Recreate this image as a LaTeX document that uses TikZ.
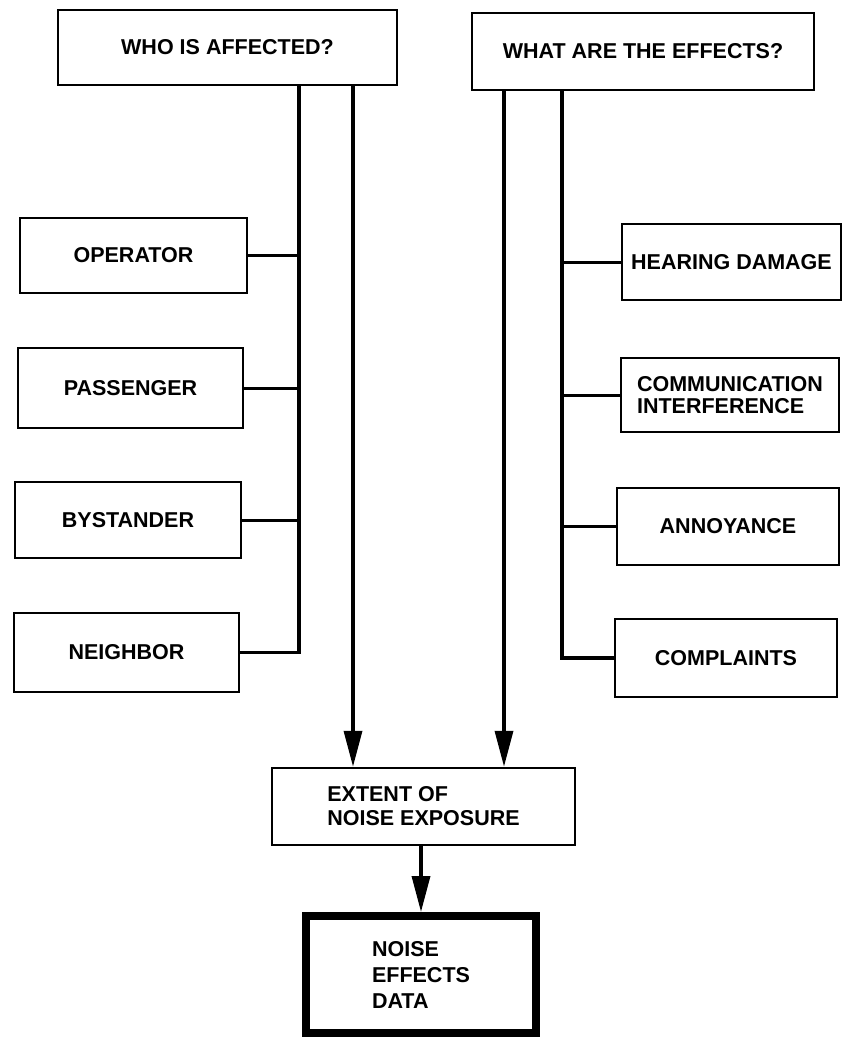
\documentclass[tikz,border=0pt]{standalone}
\usepackage{fontspec}
\setmainfont{Liberation Sans}
\usetikzlibrary{arrows.meta}
\begin{document}
\begin{tikzpicture}[x=1pt,y=-1pt,
  box/.style={draw, line width=2.5pt, inner sep=0pt, font=\bfseries\fontsize{21.5}{24}\selectfont, align=center},
  conn/.style={line width=3pt},
  trunk/.style={line width=3.5pt, line join=miter},
  arr/.style={line width=3.5pt, -{Triangle[length=36pt,width=18pt]}}]
\useasboundingbox (0,0) rectangle (844,1041);
% top question boxes
\node[box, minimum width=339pt, minimum height=75pt] (who) at (227.5,47.5) {WHO IS AFFECTED?};
\node[box, minimum width=342pt, minimum height=77pt] (what) at (643,51.5) {WHAT ARE THE EFFECTS?};
% left boxes
\node[box, minimum width=227pt, minimum height=75pt] (op) at (133.5,255.5) {OPERATOR};
\node[box, minimum width=225pt, minimum height=80pt] (pa) at (130.5,388) {PASSENGER};
\node[box, minimum width=226pt, minimum height=76pt] (by) at (128,520) {BYSTANDER};
\node[box, minimum width=225pt, minimum height=79pt] (ne) at (126.5,652.5) {NEIGHBOR};
% right boxes
\node[box, minimum width=219pt, minimum height=76pt] (hd) at (731.5,262) {HEARING DAMAGE};
\node[box, minimum width=218pt, minimum height=74pt, align=left, font=\bfseries\fontsize{21.5}{22}\selectfont] (ci) at (730,395) {COMMUNICATION\\INTERFERENCE};
\node[box, minimum width=222pt, minimum height=77pt] (an) at (728,526.5) {ANNOYANCE};
\node[box, minimum width=222pt, minimum height=78pt] (co) at (726,658) {COMPLAINTS};
% lower boxes
\node[box, minimum width=303pt, minimum height=77pt, align=left] (ext) at (423.5,806.5) {EXTENT OF\\NOISE EXPOSURE};
\node[box, line width=8pt, minimum width=230pt, minimum height=117pt, align=left, font=\bfseries\fontsize{21.5}{26}\selectfont] (data) at (421,974.5) {NOISE\\EFFECTS\\DATA};
% trunk positions
\coordinate (la) at (299,0);
\coordinate (lb) at (353,0);
\coordinate (ra) at (504,0);
\coordinate (rb) at (562,0);
% left branch trunk
\draw[trunk] (who.south -| la) -- (ne.east -| la) -- (ne.east);
\draw[conn] (op.east) -- (op.east -| la);
\draw[conn] (pa.east) -- (pa.east -| la);
\draw[conn] (by.east) -- (by.east -| la);
% right branch trunk
\draw[trunk] (what.south -| rb) -- (co.west -| rb) -- (co.west);
\draw[conn] (hd.west) -- (hd.west -| rb);
\draw[conn] (ci.west) -- (ci.west -| rb);
\draw[conn] (an.west) -- (an.west -| rb);
% arrows to extent
\draw[arr] (who.south -| lb) -- (ext.north -| lb);
\draw[arr] (what.south -| ra) -- (ext.north -| ra);
\draw[arr] (ext.south -| data.north) -- (data.north);
\end{tikzpicture}
\end{document}
